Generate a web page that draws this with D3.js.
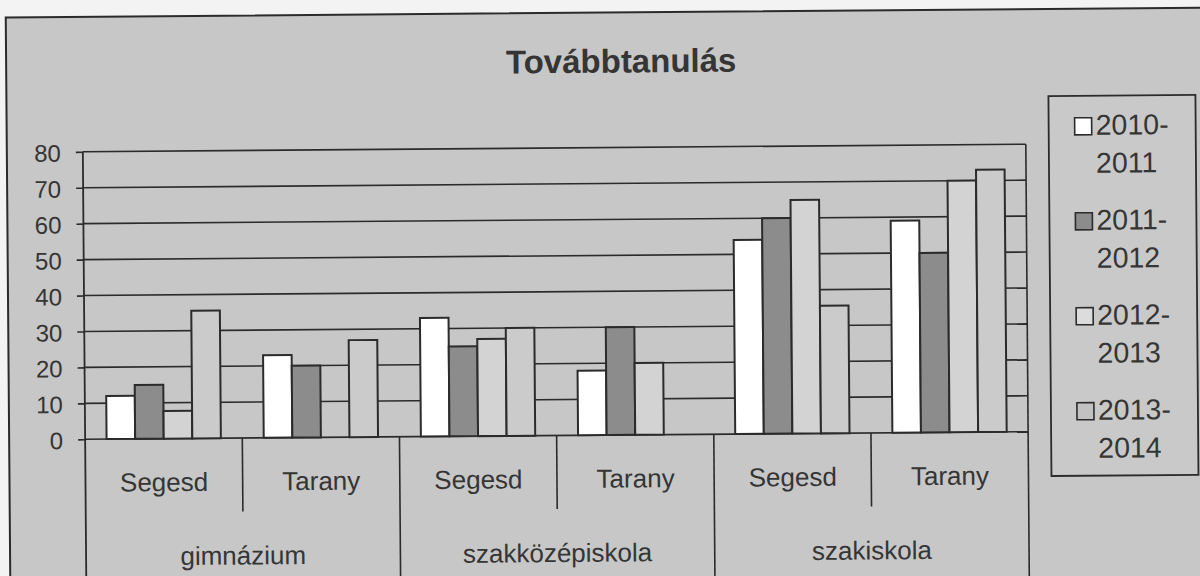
<!DOCTYPE html>
<html>
<head>
<meta charset="utf-8">
<script src="https://cdn.jsdelivr.net/npm/d3@7"></script>
<style>
  html, body { margin: 0; padding: 0; background: #f3f3f3; }
  svg { display: block; font-family: "Liberation Sans", Arial, sans-serif; }
</style>
</head>
<body>
<svg id="chart" width="1200" height="576"></svg>
<script>
// ---- data ----
const groups = ["gimnázium", "szakközépiskola", "szakiskola"];
const sites = ["Segesd", "Tarany"];
const seriesNames = ["2010-2011", "2011-2012", "2012-2013", "2013-2014"];
const s2010_2011 = [12, 23, 33, 18, 54, 59];
const s2011_2012 = [15, 20, 25, 30, 60, 50];
const s2012_2013 = [7.7, null, 27, 20, 65, 70];
const s2013_2014 = [35.5, 27, 30, null, 35.5, 73];
const yTicks = [0, 10, 20, 30, 40, 50, 60, 70, 80];
const title = "Továbbtanulás";

(function () {
const seriesValues = [s2010_2011, s2011_2012, s2012_2013, s2013_2014];
const colors = ["#ffffff", "#8c8c8c", "#d3d3d3", "#cbcbcb"];
const legendColors = ["#ffffff", "#8c8c8c", "#dcdcdc", "#c2c2c2"];

const combos = [];
groups.forEach(g => sites.forEach(s => combos.push(g + "|" + s)));

const svg = d3.select("#chart");
const root = svg.append("g").attr("transform", "rotate(-0.46, 555, 295)");

const ink = "#2b2b2b";
const textCol = "#353535";

// chart background
root.append("rect")
  .attr("x", 8).attr("y", 13).attr("width", 1230).attr("height", 620)
  .attr("fill", "#c7c7c7").attr("stroke", ink).attr("stroke-width", 2);

// scales
const pLeft = 84, pRight = 1027, pTop = 148, pBase = 435.5;
const y = d3.scaleLinear().domain([0, 80]).range([pBase, pTop]);
const x0 = d3.scaleBand().domain(combos).range([pLeft, pRight]).padding(0);
const x1 = d3.scaleBand().domain(seriesNames).range([0, x0.bandwidth()])
  .paddingInner(0).paddingOuter(0.75);

// title
root.append("text")
  .attr("x", 623).attr("y", 73)
  .attr("text-anchor", "middle")
  .attr("font-size", 33).attr("font-weight", "bold")
  .attr("fill", textCol)
  .text(title);

// gridlines
root.append("g").selectAll("line").data(yTicks).join("line")
  .attr("x1", pLeft).attr("x2", pRight)
  .attr("y1", d => y(d)).attr("y2", d => y(d))
  .attr("stroke", ink).attr("stroke-width", 1.6);

// right plot border
root.append("line")
  .attr("x1", pRight).attr("x2", pRight).attr("y1", pTop).attr("y2", 620)
  .attr("stroke", ink).attr("stroke-width", 1.6);

// bars
const barG = root.append("g");
seriesNames.forEach((sn, si) => {
  barG.append("g").selectAll("rect")
    .data(combos.map((c, i) => ({ c, v: seriesValues[si][i] })).filter(d => d.v != null))
    .join("rect")
    .attr("x", d => x0(d.c) + x1(sn))
    .attr("y", d => y(d.v))
    .attr("width", x1.bandwidth())
    .attr("height", d => y(0) - y(d.v))
    .attr("fill", colors[si])
    .attr("stroke", ink).attr("stroke-width", 2);
});

// y axis
const yAxis = d3.axisLeft(y).tickValues(yTicks).tickSize(7).tickPadding(15);
const ax = root.append("g").attr("transform", `translate(${pLeft},0)`).call(yAxis);
ax.select(".domain").attr("stroke", ink).attr("stroke-width", 1.8)
  .attr("d", `M0,${pTop}V620`);
ax.selectAll(".tick line").attr("stroke", ink).attr("stroke-width", 1.6);
ax.selectAll(".tick text")
  .attr("font-size", 24).attr("fill", textCol)
  .attr("font-family", "Liberation Sans, Arial, sans-serif")
  .attr("dy", "0.38em");

// category table
const tbl = root.append("g");
const siteDiv = combos.filter((c, i) => i % 2 === 1).map(c => x0(c));
tbl.selectAll("line.site").data(siteDiv).join("line")
  .attr("class", "site")
  .attr("x1", d => d).attr("x2", d => d)
  .attr("y1", pBase).attr("y2", 509)
  .attr("stroke", ink).attr("stroke-width", 1.6);
const grpDiv = combos.filter((c, i) => i % 2 === 0 && i > 0).map(c => x0(c));
tbl.selectAll("line.grp").data(grpDiv).join("line")
  .attr("class", "grp")
  .attr("x1", d => d).attr("x2", d => d)
  .attr("y1", pBase).attr("y2", 620)
  .attr("stroke", ink).attr("stroke-width", 1.6);

tbl.selectAll("text.site").data(combos).join("text")
  .attr("class", "site")
  .attr("x", d => x0(d) + x0.bandwidth() / 2)
  .attr("y", 488)
  .attr("text-anchor", "middle")
  .attr("font-size", 26).attr("fill", textCol)
  .text(d => d.split("|")[1]);

tbl.selectAll("text.grp").data(groups).join("text")
  .attr("class", "grp")
  .attr("x", g => (x0(g + "|" + sites[0]) + x0(g + "|" + sites[1]) + x0.bandwidth()) / 2)
  .attr("y", 562)
  .attr("text-anchor", "middle")
  .attr("font-size", 26).attr("fill", textCol)
  .text(g => g);

// legend
const lg = root.append("g");
lg.append("rect")
  .attr("x", 1050).attr("y", 100).attr("width", 147).attr("height", 380)
  .attr("fill", "#c9c9c9").attr("stroke", ink).attr("stroke-width", 1.8);
seriesNames.forEach((sn, i) => {
  const by = 139 + i * 95;
  lg.append("rect")
    .attr("x", 1076).attr("y", by - 17).attr("width", 17).attr("height", 17)
    .attr("fill", legendColors[i]).attr("stroke", ink).attr("stroke-width", 1.6);
  const parts = sn.split("-");
  lg.append("text")
    .attr("x", 1097).attr("y", by)
    .attr("font-size", 28.5).attr("fill", textCol)
    .text(parts[0] + "-");
  lg.append("text")
    .attr("x", 1097).attr("y", by + 38)
    .attr("font-size", 28.5).attr("fill", textCol)
    .text(parts[1]);
});
})();
</script>
</body>
</html>
